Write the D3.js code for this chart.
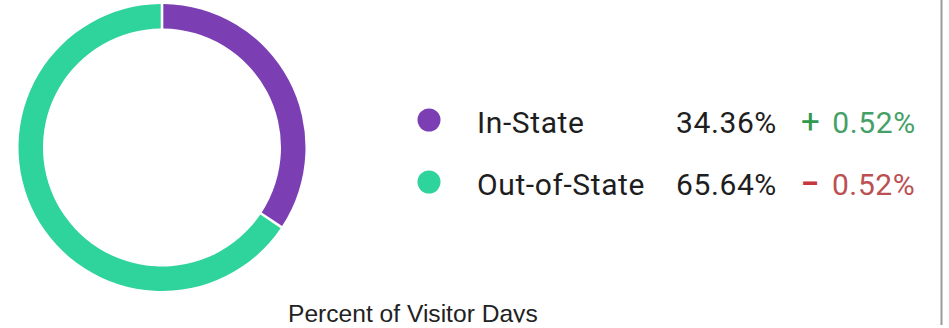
<!DOCTYPE html>
<html>
<head>
<meta charset="utf-8">
<script src="https://cdn.jsdelivr.net/npm/d3@7"></script>
<style>
  html, body { margin: 0; padding: 0; background: #fff; }
  svg { display: block; }
</style>
</head>
<body>
<svg id="chart" width="949" height="328"></svg>
<script>
// Visitor-day split by origin
const categories = ["In-State", "Out-of-State"];
const shares = [34.36, 65.64];
const changes = [0.52, -0.52];
const colors = ["#7b3fb3", "#2fd39c"];
const caption = "Percent of Visitor Days";

const svg = d3.select("#chart");
const W = 949, H = 328;

// Donut
const cx = 162, cy = 147.5, outerR = 143.5, innerR = 119;
const pie = d3.pie().sort(null).value(d => d.value);
const arcs = pie(categories.map((c, i) => ({ name: c, value: shares[i] })));
const arc = d3.arc().innerRadius(innerR).outerRadius(outerR).padAngle(0.014);

svg.append("g")
  .attr("transform", `translate(${cx},${cy})`)
  .selectAll("path")
  .data(arcs)
  .join("path")
  .attr("d", arc)
  .attr("fill", (d, i) => colors[i]);

// Legend rows
const rowY = d3.scalePoint().domain(categories).range([120, 182]);
const fmtPct = d3.format(".2f");
const font = "Roboto, 'Noto Sans', sans-serif";
const fs = 30;
const ls = 0.6;

const rows = svg.append("g").selectAll("g")
  .data(categories)
  .join("g")
  .attr("transform", d => `translate(0,${rowY(d)})`);

rows.append("circle")
  .attr("cx", 429).attr("cy", 0).attr("r", 11.5)
  .attr("fill", (d, i) => colors[i]);

rows.append("text")
  .attr("x", 477).attr("y", 13)
  .attr("font-family", font).attr("font-size", fs).attr("letter-spacing", ls)
  .attr("fill", "#1e1e1e")
  .text(d => d);

rows.append("text")
  .attr("x", 676).attr("y", 13)
  .attr("font-family", font).attr("font-size", fs).attr("letter-spacing", ls)
  .attr("fill", "#1e1e1e")
  .text((d, i) => fmtPct(shares[i]) + "%");

// Change indicator: sign glyph + magnitude
rows.append("text")
  .attr("x", 801).attr("y", 13)
  .attr("font-family", font).attr("font-size", fs).attr("letter-spacing", ls)
  .attr("fill", (d, i) => changes[i] >= 0 ? "#45a067" : "#bb5053")
  .each(function(d, i) {
    const t = d3.select(this);
    const up = changes[i] >= 0;
    t.append("tspan")
      .attr("font-size", 33)
      .attr("font-weight", up ? 400 : 700)
      .attr("fill", up ? "#2f9a4f" : "#c6363a")
      .text(up ? "+" : "\u2212");
    t.append("tspan").attr("dx", 12).text(fmtPct(Math.abs(changes[i])) + "%");
  });

// Caption (bottom edge clipped by frame)
svg.append("clipPath").attr("id", "capClip")
  .append("rect").attr("x", 0).attr("y", 0).attr("width", W).attr("height", 322.5);
svg.append("text")
  .attr("clip-path", "url(#capClip)")
  .attr("x", 288).attr("y", 321.5)
  .attr("font-family", "'Liberation Sans', Arial, sans-serif")
  .attr("font-size", 24.6)
  .attr("fill", "#222")
  .text(caption);

// Frame edge on the right
svg.append("line")
  .attr("x1", 941.5).attr("x2", 941.5)
  .attr("y1", 0).attr("y2", 325)
  .attr("stroke", "#9a9a9a").attr("stroke-width", 2);
</script>
</body>
</html>
